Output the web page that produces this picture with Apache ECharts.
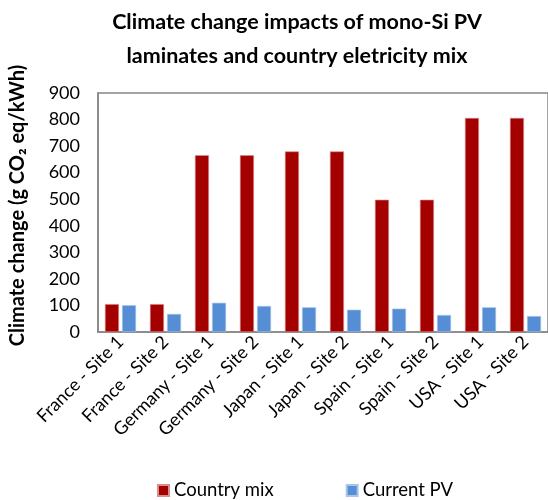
<!DOCTYPE html>
<html>
<head>
<meta charset="utf-8">
<script src="https://cdn.jsdelivr.net/npm/echarts@6/dist/echarts.min.js"></script>
<style>
  html, body { margin: 0; padding: 0; background: #fff; }
  #chart { width: 548px; height: 500px; }
</style>
</head>
<body>
<div id="chart"></div>
<script>
const categories = [
  'France - Site 1', 'France - Site 2', 'Germany - Site 1', 'Germany - Site 2',
  'Japan - Site 1', 'Japan - Site 2', 'Spain - Site 1', 'Spain - Site 2',
  'USA - Site 1', 'USA - Site 2'
];
const countryMix = [105, 105, 666, 666, 680, 680, 498, 498, 806, 806];
const currentPV = [101, 68, 110, 98, 93, 84, 88, 64, 93, 60];

const font = 'Lato, "Open Sans", sans-serif';

const chart = echarts.init(document.getElementById('chart'));
chart.setOption({
  backgroundColor: '#fff',
  animation: false,
  textStyle: { fontFamily: font },
  title: {
    text: 'Climate change impacts of mono-Si PV\nlaminates and country eletricity mix',
    left: 292,
    textAlign: 'center',
    top: 0,
    textStyle: { fontSize: 21.5, fontWeight: 'bold', color: '#000', lineHeight: 34, fontFamily: font }
  },
  legend: {
    top: 476,
    left: 152,
    itemWidth: 11,
    itemHeight: 11,
    itemGap: 72,
    icon: 'rect',
    textStyle: { fontSize: 18.5, color: '#000', fontFamily: font },
    data: ['Country mix', 'Current PV']
  },
  grid: {
    left: 98,
    top: 93,
    width: 450,
    height: 239,
    show: true,
    borderColor: '#868686',
    borderWidth: 1.5
  },
  xAxis: {
    type: 'category',
    data: categories,
    axisLine: { lineStyle: { color: '#868686', width: 1.5 } },
    axisTick: { show: false },
    axisLabel: { rotate: 45, fontSize: 18, color: '#000', margin: 7, interval: 0 }
  },
  yAxis: {
    type: 'value',
    min: 0,
    max: 900,
    interval: 100,
    name: 'Climate change (g CO₂ eq/kWh)',
    nameLocation: 'middle',
    nameGap: 70,
    nameTextStyle: { fontSize: 20, fontWeight: 'bold', color: '#000', padding: [0, 0, 0, 14] },
    axisLine: { show: true, lineStyle: { color: '#868686', width: 1.5 } },
    axisTick: { show: false },
    splitLine: { show: false },
    axisLabel: { fontSize: 18, color: '#000', margin: 18 }
  },
  series: [
    {
      name: 'Country mix',
      type: 'bar',
      data: countryMix,
      barWidth: 14,
      barGap: '22%',
      itemStyle: { color: '#A50000', borderColor: '#D98C8C', borderWidth: 0.6 }
    },
    {
      name: 'Current PV',
      type: 'bar',
      data: currentPV,
      barWidth: 14,
      itemStyle: { color: '#558ED5', borderColor: '#A9C6EA', borderWidth: 0.6 }
    }
  ]
});
</script>
</body>
</html>
